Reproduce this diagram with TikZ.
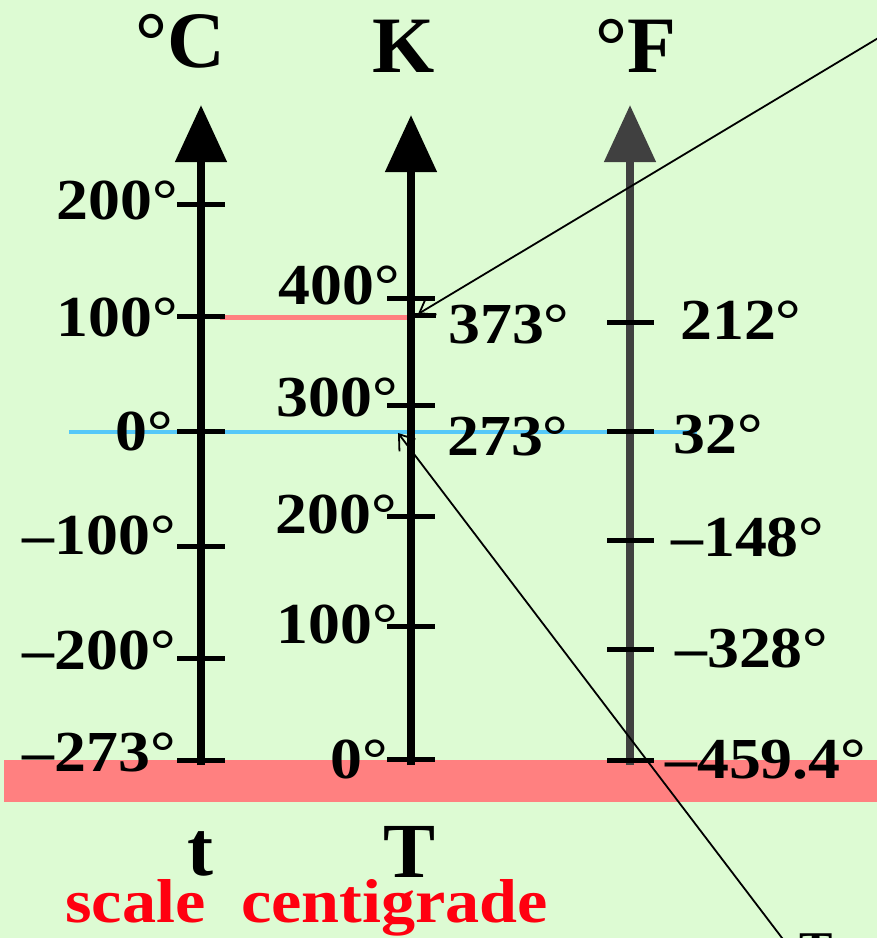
\documentclass[tikz,border=0pt]{standalone}
\usepackage{fontspec}
\setmainfont{Liberation Serif}
\newfontfamily\widefont[FakeStretch=1.1]{Liberation Serif}
\usepackage{xcolor}
\usetikzlibrary{arrows.meta}
\definecolor{scalebg}{RGB}{221,251,211}
\definecolor{zerobar}{RGB}{255,128,128}
\definecolor{freezeline}{RGB}{85,200,248}
\definecolor{faxis}{RGB}{64,64,64}
\definecolor{scalered}{RGB}{255,0,16}
\tikzset{
  scalelabel/.style={
    font=\widefont\fontsize{58}{60}\selectfont\bfseries,
    inner sep=0pt
  },
  scaletitle/.style={
    font=\fontsize{80}{84}\selectfont\bfseries,
    inner sep=0pt
  },
  scaleaxis/.style={
    line width=8pt,
    -{Triangle[length=57pt,width=50pt]}
  },
  scaletick/.style={
    line width=5pt
  },
  pointer/.style={
    line width=1.8pt,
    -{Straight Barb[length=14pt,width=20pt]}
  }
}

\begin{document}
\begin{tikzpicture}[x=1pt,y=-1pt]
    \fill[scalebg] (0,0) rectangle (877,938);
    \useasboundingbox (0,0) rectangle (877,938);

    % absolute zero band and reference lines
    \fill[zerobar] (4,760) rectangle (877,802);
    \draw[zerobar, line width=5pt] (220,317) -- (413,317);
    \draw[freezeline, line width=4pt] (69,432) -- (697,432);

    % axes
    \coordinate (cbot) at (201,765);
    \coordinate (ctop) at (201,105);
    \coordinate (kbot) at (411,765);
    \coordinate (ktop) at (411,115);
    \coordinate (fbot) at (630,765);
    \coordinate (ftop) at (630,105);
    \draw[scaleaxis] (cbot) -- (ctop);
    \draw[scaleaxis] (kbot) -- (ktop);
    \draw[scaleaxis, draw=faxis, fill=faxis] (fbot) -- (ftop);

    % ticks
    \draw[scaletick] (201,204) +(-24,0) -- +(24,0);
    \draw[scaletick] (201,316) +(-24,0) -- +(24,0);
    \draw[scaletick] (201,431) +(-24,0) -- +(24,0);
    \draw[scaletick] (201,546) +(-24,0) -- +(24,0);
    \draw[scaletick] (201,658) +(-24,0) -- +(24,0);
    \draw[scaletick] (201,760) +(-24,0) -- +(24,0);
    \draw[scaletick] (411,298) +(-24,0) -- +(24,0);
    \draw[scaletick] (411,405) +(-24,0) -- +(24,0);
    \draw[scaletick] (411,516) +(-24,0) -- +(24,0);
    \draw[scaletick] (411,626) +(-24,0) -- +(24,0);
    \draw[scaletick] (411,759) +(-24,0) -- +(24,0);
    \draw[scaletick] (411,315) -- +(25,0);
    \draw[scaletick] (630,322) +(-23,0) -- +(24,0);
    \draw[scaletick] (630,431) +(-23,0) -- +(24,0);
    \draw[scaletick] (630,540) +(-23,0) -- +(24,0);
    \draw[scaletick] (630,649) +(-23,0) -- +(24,0);
    \draw[scaletick] (630,760) +(-23,0) -- +(24,0);

    % titles
    \node[scaletitle, anchor=base] (tc) at (180,67) {°C};
    \node[scaletitle, anchor=base] (tk) at (404,72) {K};
    \node[scaletitle, anchor=base] (tf) at (636,72) {°F};

    % celsius labels
    \node[scalelabel, anchor=base east] (c200) at (178,219) {200°};
    \node[scalelabel, anchor=base east] (c100) at (178,336) {100°};
    \node[scalelabel, anchor=base east] (c0) at (173,450) {0°};
    \node[scalelabel, anchor=base east] (cm100) at (176,554) {–100°};
    \node[scalelabel, anchor=base east] (cm200) at (176,669) {–200°};
    \node[scalelabel, anchor=base east] (cm273) at (176,771) {–273°};

    % kelvin labels
    \node[scalelabel, anchor=base east] (k400) at (400,304) {400°};
    \node[scalelabel, anchor=base east] (k300) at (398,416) {300°};
    \node[scalelabel, anchor=base east] (k200) at (397,533) {200°};
    \node[scalelabel, anchor=base east] (k100) at (398,643) {100°};
    \node[scalelabel, anchor=base east] (k0) at (388,778) {0°};
    \node[scalelabel, anchor=base west] (k373) at (448,343) {373°};
    \node[scalelabel, anchor=base west] (k273) at (447,455) {273°};

    % fahrenheit labels
    \node[scalelabel, anchor=base west] (f212) at (680,339) {212°};
    \node[scalelabel, anchor=base west] (f32) at (673,453) {32°};
    \node[scalelabel, anchor=base west] (fm148) at (671,556) {–148°};
    \node[scalelabel, anchor=base west] (fm328) at (675,667) {–328°};
    \node[scalelabel, anchor=base west] (fm459) at (665,778) {–459.4°};

    % variable names
    \node[scaletitle, font=\fontsize{78}{80}\selectfont\bfseries, anchor=base] (vt) at (200,875) {t};
    \node[scaletitle, font=\fontsize{78}{80}\selectfont\bfseries, anchor=base] (vT) at (410,877) {T};
    \node[scalelabel, font=\widefont\fontsize{62}{64}\selectfont\bfseries, text=scalered, anchor=base west] (sc) at (65,922) {scale\hspace{36pt}centigrade};
    \node[scalelabel, font=\fontsize{50}{52}\selectfont\bfseries, anchor=base] (cut) at (816,966) {T};

    % pointers
    \coordinate (p1) at (900,25);
    \coordinate (p2) at (795,955);
    \draw[pointer] (p1) -- (418,314);
    \draw[pointer] (p2) -- (398,433);
\end{tikzpicture}
\end{document}
